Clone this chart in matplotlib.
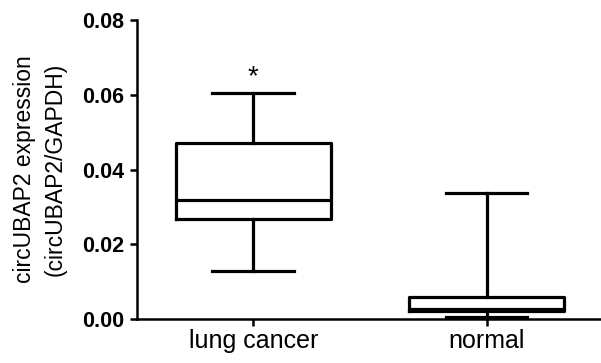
import matplotlib
matplotlib.use('Agg')
import matplotlib.pyplot as plt

plt.rcParams['font.family'] = ['Liberation Sans', 'DejaVu Sans']

categories = ['lung cancer', 'normal']
whislo = [0.0129, 0.0006]
q1 = [0.0267, 0.0021]
med = [0.0318, 0.0027]
q3 = [0.0472, 0.0058]
whishi = [0.0605, 0.0338]
star_y = 0.0612

stats = []
for i in range(len(categories)):
    stats.append({'label': categories[i], 'whislo': whislo[i], 'q1': q1[i],
                  'med': med[i], 'q3': q3[i], 'whishi': whishi[i]})

fig = plt.figure(figsize=(6.01, 3.63), dpi=100)
ax = fig.add_axes([137 / 601, 1 - 319 / 363, 464 / 601, 299 / 363])

lw = 2.3
ax.bxp(stats, positions=[1, 2], widths=0.665, capwidths=0.35, showfliers=False,
       boxprops=dict(color='k', linewidth=lw),
       whiskerprops=dict(color='k', linewidth=lw),
       capprops=dict(color='k', linewidth=lw),
       medianprops=dict(color='k', linewidth=lw))

ax.text(1, star_y, '*', ha='center', va='bottom', fontsize=20)

ax.set_xlim(0.502, 2.49)
ax.set_ylim(0, 0.08)
ax.set_yticks([0, 0.02, 0.04, 0.06, 0.08])
ax.set_yticklabels(['0.00', '0.02', '0.04', '0.06', '0.08'], fontweight='bold', fontsize=15.5)
ax.set_xticks([1, 2])
ax.set_xticklabels(categories, fontsize=18)
ax.spines['top'].set_visible(False)
ax.spines['right'].set_visible(False)
ax.spines['left'].set_linewidth(1.8)
ax.spines['bottom'].set_linewidth(1.8)
ax.tick_params(axis='both', direction='out', length=5, width=1.8, color='k')
ax.tick_params(axis='y', pad=4)
ax.tick_params(axis='x', pad=2)
ax.set_ylabel('circUBAP2 expression\n(circUBAP2/GAPDH)', fontsize=16.5, linespacing=1.45)
ax.yaxis.set_label_coords(-0.151, 0.5)

fig.savefig('out.png', dpi=100)
